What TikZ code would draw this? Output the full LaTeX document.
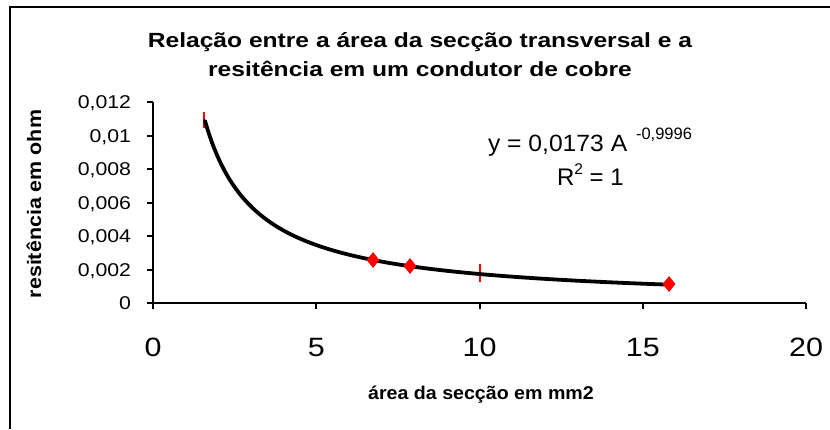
\documentclass[tikz,border=0pt]{standalone}
\usepackage{fontspec}
\setmainfont{Liberation Sans}
\usepackage{graphicx}
\usetikzlibrary{shapes.geometric}
\newcommand{\myfs}[1]{\fontsize{#1pt}{#1pt}\selectfont}
\begin{document}
\begin{tikzpicture}[x=1pt,y=-1pt,
  lbl/.style={inner sep=0pt, outer sep=0pt},
  frameline/.style={line width=2pt, black},
  axisline/.style={line width=2pt, black},
  mk/.style={diamond, fill=red, inner sep=0pt, minimum width=13pt, minimum height=16pt},
  rtick/.style={line width=2pt, red},
  curve/.style={line width=3.8pt, black, line join=round, line cap=round}]
\useasboundingbox (0,0) rectangle (830,429);
\fill[white] (0,0) rectangle (830,429);
% frame
\draw[frameline] (10,429) -- (10,7) -- (830,7);
% title
\node[lbl, anchor=base] (t1) at (420,47) {\scalebox{1.2}[1]{\myfs{20.5}\bfseries Relação entre a área da secção transversal e a}};
\node[lbl, anchor=base] (t2) at (420,76) {\scalebox{1.2}[1]{\myfs{20.5}\bfseries resitência em um condutor de cobre}};
% axes
\coordinate (o) at (153,303);
\draw[axisline] (153,102) -- (153,309);
\draw[axisline] (147,303) -- (806,303);
\foreach \i/\t in {0/0,1/{0,002},2/{0,004},3/{0,006},4/{0,008},5/{0,01},6/{0,012}}{
  \draw[axisline] (147,{303-33.5*\i}) -- (153,{303-33.5*\i});
  \node[lbl, anchor=base east] (yl\i) at (131,{303-33.5*\i+6.5}) {\scalebox{1.15}[1]{\myfs{18.5}\t}};
}
\foreach \i/\t in {0/0,1/5,2/10,3/15,4/20}{
  \draw[axisline] ({153+163.25*\i},303) -- ({153+163.25*\i},309);
  \node[lbl, anchor=base] (xl\i) at ({153+163.25*\i},356.5) {\scalebox{1.15}[1]{\myfs{26.5}\t}};
}
% axis titles
\node[lbl, rotate=90] (yt) at (34,204) {\scalebox{1.1}[1]{\myfs{19.5}\bfseries resitência em ohm}};
\node[lbl, anchor=base] (xt) at (481,399) {\scalebox{1.06}[1]{\myfs{18.5}\bfseries área da secção em mm2}};
% red tick markers
\draw[rtick] (204,112) -- (204,128);
\draw[rtick] (480,264) -- (480,282);
% curve
\draw[curve] plot[domain=1.59:15.8, samples=120] ({153+32.65*\x}, {303-289.8/\x});
% diamonds
\node[mk] (d1) at (373,260) {};
\node[mk] (d2) at (410,266) {};
\node[mk] (d3) at (669,284) {};
% equation
\node[lbl, anchor=base west] (eq) at (488,151) {\scalebox{1.05}[1]{\myfs{23.5}y = 0,0173 A}};
\node[lbl, anchor=base west] (ex) at (636,139) {\myfs{16.5}-0,9996};
\node[lbl, anchor=base west] (r2) at (557,185) {\myfs{24}R\raisebox{0.42em}{\myfs{15.5}2} = 1};
\end{tikzpicture}
\end{document}
